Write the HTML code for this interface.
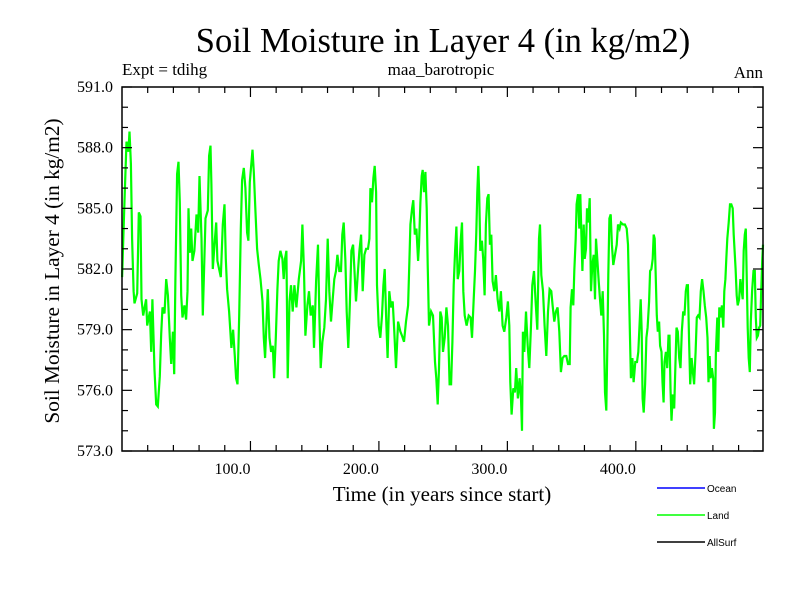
<!DOCTYPE html>
<html><head><meta charset="utf-8"><style>
body{margin:0;background:#fff;}
svg{display:block;}
text{font-family:"Liberation Serif",serif;}
</style></head><body>
<svg id="chart" width="800" height="600">
<text x="443" y="52" font-size="34.5" text-anchor="middle">Soil Moisture in Layer 4 (in kg/m2)</text>
<text x="122" y="75" font-size="17">Expt = tdihg</text>
<text x="441" y="75" font-size="17" text-anchor="middle">maa_barotropic</text>
<text x="763" y="78" font-size="17" text-anchor="end">Ann</text>
<text x="442" y="501" font-size="21" text-anchor="middle">Time (in years since start)</text>
<text transform="translate(59,271) rotate(-90)" font-size="21.3" text-anchor="middle">Soil Moisture in Layer 4 (in kg/m2)</text>
<g id="plot"></g>
<g id="legend"></g>
</svg>
<script>
const years=[0.1,1.4,2.5,3.5,5,5.8,6.9,7.9,9,9.7,11.8,13.1,14.4,15.2,16.5,18.8,19.6,21.7,22.7,23.7,25.3,26.6,27.9,29.4,30.5,31.5,33.1,34.4,35.7,37.2,38.3,39.6,40.6,41.6,42.9,44,45,46.1,47.1,48.6,49.9,51,51.8,52.8,53.9,54.9,56.4,58,59.3,60.3,61.9,62.9,63.9,65,66.8,67.8,68.9,69.6,70.7,72,73.3,74.3,75.6,76.9,78.5,79.8,80.8,81.8,83.4,85.2,86.5,87.8,88.8,89.9,91.2,92.5,93.5,94.8,96.1,97.4,98.4,99.5,100.8,101.6,102.6,103.9,105.2,106.5,107.8,109.4,110.4,111.4,112.5,113.5,114.8,116.1,117.4,118.4,119.7,121,122,123.3,124.9,125.9,126.9,128,129,130.4,131.6,132.9,134.2,135.8,137.6,139.4,140.4,141.7,142.8,144.3,145.6,146.9,148.5,149.5,151.1,152.6,153.7,154.7,156,157.5,158.8,160.1,161.4,162.7,164,165.3,166.6,167.7,169.2,170.5,171.5,172.6,173.9,174.9,176.2,177.3,178.6,179.9,180.9,182.2,183.5,184.8,186.1,187.4,188.7,190,191.5,192.6,193.4,194.6,195.7,196.7,197.8,198.5,199.8,201.1,202.4,203.5,204.5,205.8,206.8,208.1,209.4,210.7,212,213.3,214.9,216.7,218,219.5,221.1,222.7,223.7,224.5,225.8,226.8,227.9,229.2,230.5,231.2,232.3,233.3,234.1,235.1,236.2,237.2,238,239,240.6,242.1,243.7,244.7,245.8,246.8,247.8,248.9,249.9,251.2,252.5,253.8,255,256.2,257.2,258.2,259.3,260.3,261.3,262.6,263.7,264.7,265.7,266.8,268.3,269.9,271.4,272.5,273.7,274.8,275.8,276.6,277.4,278.1,278.9,280.2,281.2,282.3,283.3,284.4,285.4,286.4,287.5,288.5,289.8,291.1,292.4,293.7,295,296.3,297.6,299.2,300.4,301.5,302.3,303.3,304.6,305.9,306.9,308.2,309.5,310.6,311.4,312.1,313.2,314.5,315.8,317.1,318.4,319.4,320.7,322,323.3,324.6,325.4,326.4,327.7,329,330.3,331.6,332.9,334.2,335.2,336.5,337.8,339.1,340.4,341.7,343,344.3,345.9,347.2,348.5,349.2,350.3,351.3,352.1,353.2,353.9,355,356,356.8,357.6,358.4,359.4,360.2,361.2,362,363,364.1,365.1,366.1,367.2,368.2,369,370,371.1,372.1,373.1,374.2,375.2,376,377,377.8,378.6,379.4,380.4,381.4,382.5,383.8,385.1,386.1,387.4,388.4,390,391.5,392.9,393.9,394.7,395.5,396.2,397.3,398.3,399.6,400.9,401.9,403,403.8,404.6,405.3,406.1,407.2,408.2,409.2,410.3,411.1,412.1,413.1,413.9,414.7,415.5,416.3,417.1,418.1,418.9,420,420.8,421.6,422.3,423.4,424.4,425.4,426.2,427,427.8,428.8,429.9,430.9,431.7,432.7,433.8,434.8,435.8,436.9,437.9,438.9,439.7,440.5,441.5,442.3,443.4,444.4,445.4,446.5,447.5,448.5,449.6,450.6,451.6,452.7,453.7,454.8,455.8,456.6,457.4,458.2,459.2,460.2,460.8,461.6,462.3,463.4,464.2,465,466,467,468.1,468.9,469.7,470.4,471.2,472.3,473.3,474.3,475.4,476.2,476.9,477.7,478.5,479.3,480.4,481.4,482.4,483.2,484,484.8,485.6,486.4,487.1,487.9,488.7,489.5,490.5,491.6,492.6,493.4,494.2,495,496,496.8,497.6,498.4,499];
const landValues=[581.6,584.3,586.4,588.3,587.8,588.8,587.2,583.5,580.9,580.3,580.8,584.8,584.6,580.5,579.7,580.5,579.2,579.9,577.9,580.5,577,575.3,575.2,576.7,578.8,580.1,579.8,581.5,580.7,578.6,577.3,578.9,576.8,581.5,586.7,587.3,585.3,580.7,579.6,580.2,579.5,580.9,585,582.8,584,582.4,582.9,584.7,583.8,586.6,583.5,579.7,582,584.5,584.9,587.6,588.1,586.2,582,583.2,584.3,582.4,582,581.6,584.2,585.2,582.5,581,579.9,578.1,579,577.7,576.6,576.3,579.7,584,586.4,587,586,583.8,583.4,586.3,587.3,587.9,586.8,584.8,583,582.2,581.5,580.4,578.6,577.6,579.4,581,578.6,577.9,578.2,576.6,578.6,581,582.4,582.9,582.5,581.5,582.5,582.9,576.6,580.4,581.2,579.9,581.2,580.1,581.5,582.4,584.2,581.9,578.7,580.2,580.9,579.7,580.2,578.1,581.4,583.2,579.6,577.1,578.4,579.1,580.5,583.5,580.9,579.4,580.5,581.5,581.9,582.7,581.9,581.9,583.7,584.3,582.4,579.9,578.1,580.2,582.9,583.2,582,580.4,581.7,582.9,583.7,580.9,582.7,583,583,583.5,586,585.3,586.5,587.1,585.8,581.2,579.2,578.6,579.7,581.2,582,579.2,577.6,580.9,580.1,580.4,578.9,577.1,579.4,578.9,578.7,578.4,579.4,580.2,582.4,584.2,585,585.4,583.7,584,582.4,583.2,585.3,586.6,586.9,585.8,586.8,585,582.2,579.2,579.9,579.7,577.4,576.6,575.3,577.1,579.9,579.6,577.9,578.6,580.1,579.2,576.3,576.3,578.4,581.2,582.9,584.1,581.5,581.9,583.4,584.3,580.9,579.7,579.2,579.7,579.6,578.6,580.4,581.9,583.8,585.8,587.1,585.7,582.9,583.4,582.5,580.7,584.2,585.5,585.7,583.2,583.7,581.4,580.9,581.7,580.5,579.9,580.9,579.2,578.9,579.6,580.4,579.2,576.4,574.8,576.1,575.9,577.1,575.6,576.6,575.6,574,578.9,577.9,579.9,578.2,577.1,579.2,581.2,581.9,580.4,579,583.5,584.2,581.7,580.9,579.2,577.7,579.9,581,580.9,580.2,579.4,579.9,580.1,578.9,576.9,577.6,577.7,577.7,577.3,577.3,580.1,581,580.2,581.9,583.5,585.2,585.7,584,585.7,583.7,581.9,584.2,582.5,583,585,584.3,585.5,580.9,582.2,582.7,580.5,583.5,582.5,581.4,580.5,579.7,580.9,578.7,575.9,575,578.1,581.7,584.5,584.7,583.2,582.2,582.7,583.2,584.2,584,584.3,584.2,584.2,584,583.2,580.9,578.6,576.6,577.6,576.4,577.4,577.4,577.9,579.4,580.5,578.9,575.6,574.9,576.3,578.6,579.1,580.4,581.9,582,582.5,583.7,583.5,581.7,579.7,578.9,579.4,578.2,577.9,576.4,575.4,577.4,577.9,577.1,578.7,578.7,576.1,574.5,575.8,575.1,577.4,579.1,578.9,577.6,577.1,578.9,579.9,579.7,580.9,581.2,581.2,578.4,576.3,577.6,576.9,576.3,577.9,579.6,579.7,579.6,580.9,581.5,580.9,580.2,579.6,578.6,576.4,577.7,576.6,577.1,576.6,574.1,574.9,577.9,579.6,577.9,580.1,579.6,580.2,579.1,580.9,581.5,582.5,583.5,584.3,585.2,585.2,585,583.7,582.9,582,580.7,580.2,580.5,581.5,580.9,580.5,582.9,583.7,584,581.4,579.1,577.6,576.9,579.4,580.9,581.9,581.9,579.6,578.6,578.7,579.1,579.2,580.9,582.4,583.2];
const yTickValues=[573,576,579,582,585,588,591];
const yTickLabels=["573.0","576.0","579.0","582.0","585.0","588.0","591.0"];
const xTickValues=[100,200,300,400];
const xTickLabels=["100.0","200.0","300.0","400.0"];
const legendLabels=["Ocean","Land","AllSurf"];
const legendColors=["#0000ff","#00ff00","#000000"];

const NS="http://www.w3.org/2000/svg";
const L=122,R=763,T=87,B=451,XMIN=0,XMAX=499,YMIN=573,YMAX=591;
function sx(v){return L+(v-XMIN)/(XMAX-XMIN)*(R-L);}
function sy(v){return B-(v-YMIN)/(YMAX-YMIN)*(B-T);}
function mk(tag,attrs,parent){const e=document.createElementNS(NS,tag);for(const k in attrs)e.setAttribute(k,attrs[k]);parent.appendChild(e);return e;}
const plot=document.getElementById('plot');

let d='';
for(let i=0;i<years.length;i++){d+=(i?'L':'M')+sx(years[i]).toFixed(1)+','+sy(landValues[i]).toFixed(1);}
const line=mk('path',{d:d,fill:'none',stroke:'#00ff00','stroke-width':2.2,'stroke-linejoin':'miter'},plot);



const frame=mk('rect',{x:L,y:T,width:R-L,height:B-T,fill:'none',stroke:'#000','stroke-width':1.5},plot);



const ticks=mk('g',{stroke:'#000','stroke-width':1.2},plot);


for(let v=YMIN;v<=YMAX;v++){
  const major=((v-YMIN)%3===0), len=major?10:6, y=sy(v);
  mk('line',{x1:L,y1:y,x2:L+len,y2:y},ticks);
  mk('line',{x1:R,y1:y,x2:R-len,y2:y},ticks);
}
for(let v=20;v<XMAX;v+=20){
  const major=(v%100===0), len=major?10:6, x=sx(v);
  mk('line',{x1:x,y1:B,x2:x,y2:B-len},ticks);
  mk('line',{x1:x,y1:T,x2:x,y2:T+len},ticks);
}
for(let i=0;i<yTickValues.length;i++){
  const t=mk('text',{x:113,y:sy(yTickValues[i])+5,'font-size':16,'text-anchor':'end'},plot);
  t.textContent=yTickLabels[i];
  
  
}
for(let i=0;i<xTickValues.length;i++){
  const t=mk('text',{x:sx(xTickValues[i]),y:474,'font-size':16,'text-anchor':'end'},plot);
  t.textContent=xTickLabels[i];
  
  
}
const lg=document.getElementById('legend');
for(let i=0;i<legendLabels.length;i++){
  const y=488+i*27;
  const g=mk('g',{},lg);
  
  
  mk('line',{x1:657,y1:y,x2:705,y2:y,stroke:legendColors[i],'stroke-width':1.5},g);
  const t=mk('text',{x:707,y:y+4,'font-size':10,style:'font-family:"Liberation Sans",sans-serif'},g);
  t.textContent=legendLabels[i];
}
</script>
</body></html>
